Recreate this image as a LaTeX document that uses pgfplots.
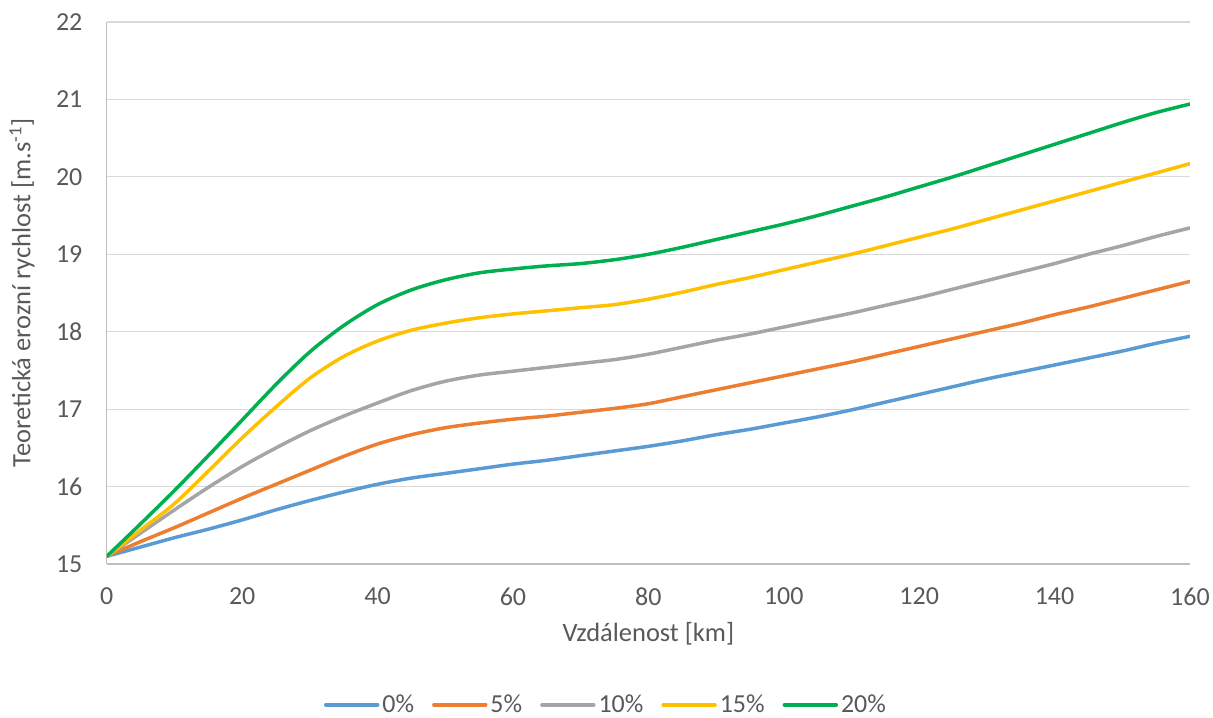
\documentclass[border=0pt]{standalone}
\usepackage{pgfplots}
\pgfplotsset{compat=1.18}
\usepackage{pgfplotstable}
\usepackage{fontspec}
\setmainfont{Carlito}
\definecolor{cblue}{HTML}{5B9BD5}
\definecolor{corange}{HTML}{ED7D31}
\definecolor{cgray}{HTML}{A5A5A5}
\definecolor{cyellow}{HTML}{FFC000}
\definecolor{cgreen}{HTML}{00B050}
\definecolor{ctext}{HTML}{595959}
\definecolor{caxis}{HTML}{BFBFBF}
\definecolor{cgrid}{HTML}{D9D9D9}
\pgfplotstableread{
x    a     b     c     d     e
0    15.10 15.10 15.10 15.10 15.10
5    15.22 15.29 15.40 15.44 15.52
10   15.34 15.47 15.70 15.78 15.95
15   15.45 15.66 15.99 16.20 16.40
20   15.57 15.85 16.26 16.63 16.86
25   15.70 16.03 16.50 17.03 17.32
30   15.82 16.21 16.72 17.40 17.74
35   15.93 16.39 16.91 17.68 18.08
40   16.03 16.55 17.08 17.88 18.35
45   16.11 16.67 17.24 18.02 18.54
50   16.17 16.76 17.36 18.11 18.67
55   16.23 16.82 17.44 18.18 18.76
60   16.29 16.87 17.49 18.23 18.81
65   16.34 16.91 17.54 18.27 18.85
70   16.40 16.96 17.59 18.31 18.88
75   16.46 17.01 17.64 18.35 18.93
80   16.52 17.07 17.71 18.42 19.00
85   16.59 17.16 17.80 18.51 19.09
90   16.67 17.25 17.89 18.61 19.19
95   16.74 17.34 17.97 18.70 19.29
100  16.82 17.43 18.06 18.80 19.39
105  16.90 17.52 18.15 18.90 19.50
110  16.99 17.61 18.24 19.00 19.62
115  17.09 17.71 18.34 19.11 19.74
120  17.19 17.81 18.44 19.22 19.87
125  17.29 17.91 18.55 19.33 20.00
130  17.39 18.01 18.66 19.45 20.14
135  17.48 18.11 18.77 19.57 20.28
140  17.57 18.22 18.88 19.69 20.42
145  17.66 18.32 19.00 19.81 20.56
150  17.75 18.43 19.11 19.93 20.70
155  17.85 18.54 19.23 20.05 20.83
160  17.94 18.65 19.34 20.17 20.94
}\data
\begin{document}
\begin{tikzpicture}[x=1pt,y=1pt]
\path (-107,-153) rectangle (1106,565);
\begin{axis}[
  at={(0,0)}, anchor=south west,
  width=1085pt, height=543pt, scale only axis,
  xmin=0, xmax=160, ymin=15, ymax=22,
  xtick={0,20,...,160}, ytick={15,...,22},
  axis x line*=bottom, axis y line*=left,
  axis line style={caxis, line width=1.3pt, -},
  major tick length=0pt,
  ymajorgrids, grid style={cgrid, line width=1.3pt},
  font=\fontsize{26}{31}\selectfont,
  ticklabel style={text=ctext, font=\fontsize{26}{31}\selectfont},
  /pgf/number format/assume math mode=true,
  xticklabel style={yshift=-20pt},
  yticklabel style={xshift=-21pt},
  xlabel={Vzdálenost [km]},
  ylabel={Teoretická erozní rychlost [m.s\textsuperscript{-1}]},
  label style={text=ctext, font=\fontsize{26.5}{31}\selectfont},
  xlabel style={at={(axis description cs:0.5,0)}, anchor=center, yshift=-70pt},
  every axis y label/.append style={at={(-85pt,271.5pt)}, anchor=center, rotate=0},
  legend columns=5,
  legend style={at={(499.5pt,-141pt)}, anchor=center, draw=none, fill=none,
    font=\fontsize{26}{31}\selectfont, text=ctext,
    nodes={inner sep=1pt},
    /tikz/every even column/.append style={column sep=17pt},
    /tikz/every odd column/.append style={column sep=2pt}},
  legend image code/.code={\draw[#1, line width=3.5pt, line cap=round] (0pt,0pt) -- (52pt,0pt);},
  every axis plot/.append style={line width=3.5pt, smooth, line cap=round},
]
\addplot[cblue] table[x=x,y=a]{\data};
\addplot[corange] table[x=x,y=b]{\data};
\addplot[cgray] table[x=x,y=c]{\data};
\addplot[cyellow] table[x=x,y=d]{\data};
\addplot[cgreen] table[x=x,y=e]{\data};
\legend{0\%,5\%,10\%,15\%,20\%}
\end{axis}
\end{tikzpicture}
\end{document}
